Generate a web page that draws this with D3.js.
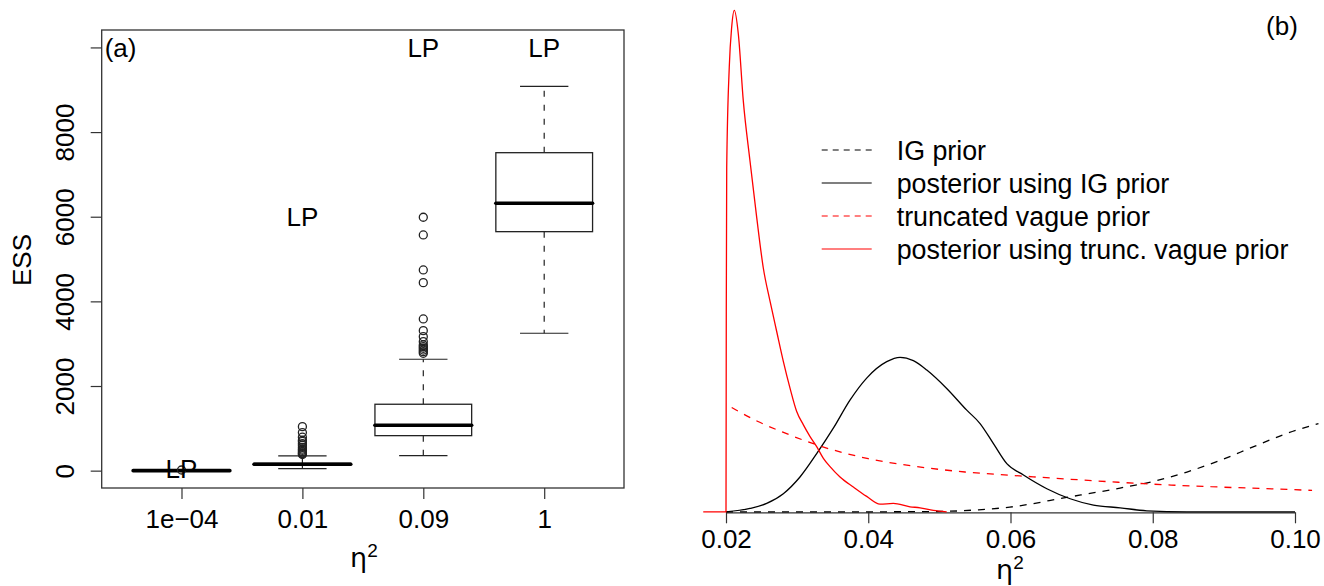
<!DOCTYPE html>
<html><head><meta charset="utf-8">
<script src="https://cdn.jsdelivr.net/npm/d3@7"></script>
<style>
body{margin:0;background:#fff}
svg text{font-family:"Liberation Sans",Arial,Helvetica,sans-serif;fill:#000}
</style></head>
<body><svg id="chart" width="1324" height="586"></svg>
<script>
// ---------- Panel (a): ESS boxplots ----------
const categories = ["1e\u221204", "0.01", "0.09", "1"];
const whiskerLow  = [0, 47, 354, 3246];
const q1          = [0, 130, 827, 5647];
const medians     = [0, 150, 1073, 6318];
const q3          = [0, 175, 1569, 7513];
const whiskerHigh = [0, 347, 2632, 9082];
const outliers = [
  [15],
  [380, 400, 420, 450, 480, 510, 550, 600, 640, 690, 720, 790, 900, 1040],
  [2773, 2812, 2850, 2892, 2930, 2970, 3048, 3166, 3308, 3584, 4442, 4742, 5569, 5987],
  []
];
const lpLabelY = [40, 6000, 10000, 10000];
const essTicks = [0, 2000, 4000, 6000, 8000, 10000];

// ---------- Panel (b): densities ----------
const etaTicks = [0.02, 0.04, 0.06, 0.08, 0.10];
const igPriorX = [0.02, 0.03, 0.04, 0.045, 0.051, 0.0555, 0.0599, 0.0679, 0.0754, 0.0801, 0.0848, 0.0895, 0.0941, 0.0988, 0.1033];
const igPriorY = [0, 0, 0, 0.02, 0.15, 0.6, 1.4, 4.3, 7.1, 9.1, 11.9, 15.4, 19.4, 23.4, 26.4];
const postIgX = [0.02, 0.02337, 0.02572, 0.02806, 0.0304, 0.03275, 0.03509, 0.03743, 0.03978, 0.0426, 0.04447, 0.04634, 0.04823, 0.05103, 0.05385, 0.05572, 0.0576, 0.05948, 0.06182, 0.06511, 0.06839, 0.07166, 0.07541, 0.07916, 0.08479, 0.0895, 0.1];
const postIgY = [0, 1.0, 2.5, 5.4, 10.4, 17.4, 25.0, 33.4, 40.0, 44.9, 46.2, 45.2, 42.4, 36.9, 30.4, 26.4, 20.4, 14.4, 11.0, 6.9, 3.9, 2.0, 1.2, 0.3, 0, 0, 0];
const truncPriorX = [0.0208, 0.0245, 0.0279, 0.0335, 0.0400, 0.0466, 0.0536, 0.0602, 0.0694, 0.0788, 0.0882, 0.0975, 0.1024];
const truncPriorY = [31.2, 27.0, 23.9, 19.5, 15.9, 13.6, 11.9, 10.9, 9.6, 8.4, 7.5, 6.8, 6.4];
const postTruncX = [0.0168, 0.0200, 0.02004, 0.0201, 0.02046, 0.0208, 0.02117, 0.02173, 0.02243, 0.02337, 0.02432, 0.02524, 0.02619, 0.02712, 0.02806, 0.029, 0.02994, 0.03088, 0.03182, 0.03275, 0.03369, 0.03463, 0.03603, 0.0379, 0.03978, 0.04165, 0.04352, 0.04587, 0.04728, 0.04915, 0.05103];
const postTruncY = [0, 0, 60, 103, 133, 145, 150, 143, 123, 105, 88, 73, 63, 54, 45, 37, 30, 26, 22.5, 19.5, 16, 13.5, 10.4, 7.4, 4.6, 2.3, 2.5, 1.5, 1.2, 0.4, 0];
const legendLabels = ["IG prior", "posterior using IG prior", "truncated vague prior", "posterior using trunc. vague prior"];

const svg = d3.select("#chart");
const FS = 26;

// ===== Panel (a) =====
const A = {left: 101.7, right: 624, top: 30, bottom: 488};
const xA = d3.scaleLinear().domain([0.34, 4.66]).range([A.left, A.right]);
const yA = d3.scaleLinear().domain([-410, 10412]).range([A.bottom, A.top]);
const gA = svg.append("g");
const boxHalf = 0.4, capHalf = 0.2;
const dark = "#222";

categories.forEach((c, i) => {
  const cx = i + 1;
  const g = gA.append("g");
  g.append("line").attr("x1", xA(cx)).attr("x2", xA(cx)).attr("y1", yA(q3[i])).attr("y2", yA(whiskerHigh[i]))
    .attr("stroke", dark).attr("stroke-width", 1.2).attr("stroke-dasharray", "6,8");
  g.append("line").attr("x1", xA(cx)).attr("x2", xA(cx)).attr("y1", yA(q1[i])).attr("y2", yA(whiskerLow[i]))
    .attr("stroke", dark).attr("stroke-width", 1.2).attr("stroke-dasharray", "6,8");
  [whiskerLow[i], whiskerHigh[i]].forEach(v => {
    g.append("line").attr("x1", xA(cx - capHalf)).attr("x2", xA(cx + capHalf)).attr("y1", yA(v)).attr("y2", yA(v))
      .attr("stroke", dark).attr("stroke-width", 1.2);
  });
  g.append("rect").attr("x", xA(cx - boxHalf)).attr("width", xA(cx + boxHalf) - xA(cx - boxHalf))
    .attr("y", yA(q3[i])).attr("height", Math.max(0.01, yA(q1[i]) - yA(q3[i])))
    .attr("fill", "white").attr("stroke", dark).attr("stroke-width", 1.3);
  g.append("line").attr("x1", xA(cx - boxHalf)).attr("x2", xA(cx + boxHalf)).attr("y1", yA(medians[i])).attr("y2", yA(medians[i]))
    .attr("stroke", "#000").attr("stroke-width", 3.6).attr("stroke-linecap", "round");
  g.selectAll("circle").data(outliers[i]).join("circle")
    .attr("cx", xA(cx)).attr("cy", d => yA(d)).attr("r", 4)
    .attr("fill", "none").attr("stroke", dark).attr("stroke-width", 1.3);
  gA.append("text").attr("x", xA(cx)).attr("y", yA(lpLabelY[i])).attr("dy", "0.36em")
    .attr("text-anchor", "middle").attr("font-size", FS).text("LP");
});

gA.append("rect").attr("x", A.left).attr("y", A.top).attr("width", A.right - A.left).attr("height", A.bottom - A.top)
  .attr("fill", "none").attr("stroke", "#333").attr("stroke-width", 1.3);

const yAxisA = gA.append("g").attr("transform", `translate(${A.left},0)`)
  .call(d3.axisLeft(yA).tickValues(essTicks).tickSize(11).tickFormat(d => d === 10000 ? "" : d));
yAxisA.select(".domain").remove();
yAxisA.selectAll(".tick line").attr("stroke", "#333").attr("stroke-width", 1.2);
yAxisA.selectAll(".tick text").attr("x", 0).attr("dy", null).attr("text-anchor", "middle")
  .attr("transform", "translate(-27.4,0) rotate(-90)").attr("font-size", FS).attr("font-family", null);

const xAxisA = gA.append("g").attr("transform", `translate(0,${A.bottom})`)
  .call(d3.axisBottom(xA).tickValues([1, 2, 3, 4]).tickSize(11).tickPadding(11).tickFormat(d => categories[d - 1]));
xAxisA.select(".domain").remove();
xAxisA.selectAll(".tick line").attr("stroke", "#333").attr("stroke-width", 1.2);
xAxisA.selectAll(".tick text").attr("font-size", FS).attr("font-family", null);

gA.append("text").attr("transform", "translate(31,260) rotate(-90)").attr("text-anchor", "middle")
  .attr("font-size", FS).text("ESS");
const etaA = gA.append("text").attr("x", 350).attr("y", 567).attr("font-size", 27)
  .style("font-family", "'DejaVu Sans', sans-serif");
etaA.append("tspan").text("\u03b7");
etaA.append("tspan").attr("dy", -10).attr("font-size", 19).style("font-family", "'Liberation Sans', sans-serif").text("2");
gA.append("text").attr("x", A.left + 3).attr("y", yA(10000)).attr("dy", "0.36em").attr("font-size", FS).text("(a)");

// ===== Panel (b) =====
const xB = d3.scaleLinear().domain([0.02, 0.10]).range([726, 1295]);
const yB = d3.scaleLinear().domain([0, 150]).range([511.8, 10.3]);
const gB = svg.append("g");
const line = d3.line().x(d => xB(d[0])).y(d => yB(d[1])).curve(d3.curveMonotoneX);
const zip = (xs, ys) => xs.map((x, i) => [x, ys[i]]);

const xAxisB = gB.append("g").attr("transform", "translate(0,512.3)")
  .call(d3.axisBottom(xB).tickValues(etaTicks).tickSize(11).tickSizeOuter(0).tickPadding(6).tickFormat(d3.format(".2f")));
xAxisB.select(".domain").attr("stroke", "#333").attr("stroke-width", 1.2);
xAxisB.selectAll(".tick line").attr("stroke", "#333").attr("stroke-width", 1.2);
xAxisB.selectAll(".tick text").attr("font-size", FS).attr("font-family", null);

const series = [
  {x: igPriorX, y: igPriorY, color: "#000", dash: "7,7"},
  {x: postIgX, y: postIgY, color: "#000", dash: null},
  {x: truncPriorX, y: truncPriorY, color: "#ff0000", dash: "7,7"},
  {x: postTruncX, y: postTruncY, color: "#ff0000", dash: null}
];
series.forEach(s => {
  gB.append("path").attr("d", line(zip(s.x, s.y))).attr("fill", "none")
    .attr("stroke", s.color).attr("stroke-width", 1.3).attr("stroke-dasharray", s.dash);
});

const legY = [150, 183, 216, 249];
legendLabels.forEach((lab, i) => {
  const s = series[i];
  gB.append("line").attr("x1", 821.7).attr("x2", 871.7).attr("y1", legY[i]).attr("y2", legY[i])
    .attr("stroke", s.color).attr("stroke-width", 1.2).attr("stroke-dasharray", s.dash ? "6,5" : null);
  gB.append("text").attr("x", 896.7).attr("y", legY[i]).attr("dy", "0.36em").attr("font-size", 26.8).text(lab);
});

const etaB = gB.append("text").attr("x", 996).attr("y", 579).attr("font-size", 27)
  .style("font-family", "'DejaVu Sans', sans-serif");
etaB.append("tspan").text("\u03b7");
etaB.append("tspan").attr("dy", -10).attr("font-size", 19).style("font-family", "'Liberation Sans', sans-serif").text("2");
gB.append("text").attr("x", 1282).attr("y", 26).attr("dy", "0.36em").attr("text-anchor", "middle").attr("font-size", FS).text("(b)");
</script></body></html>
